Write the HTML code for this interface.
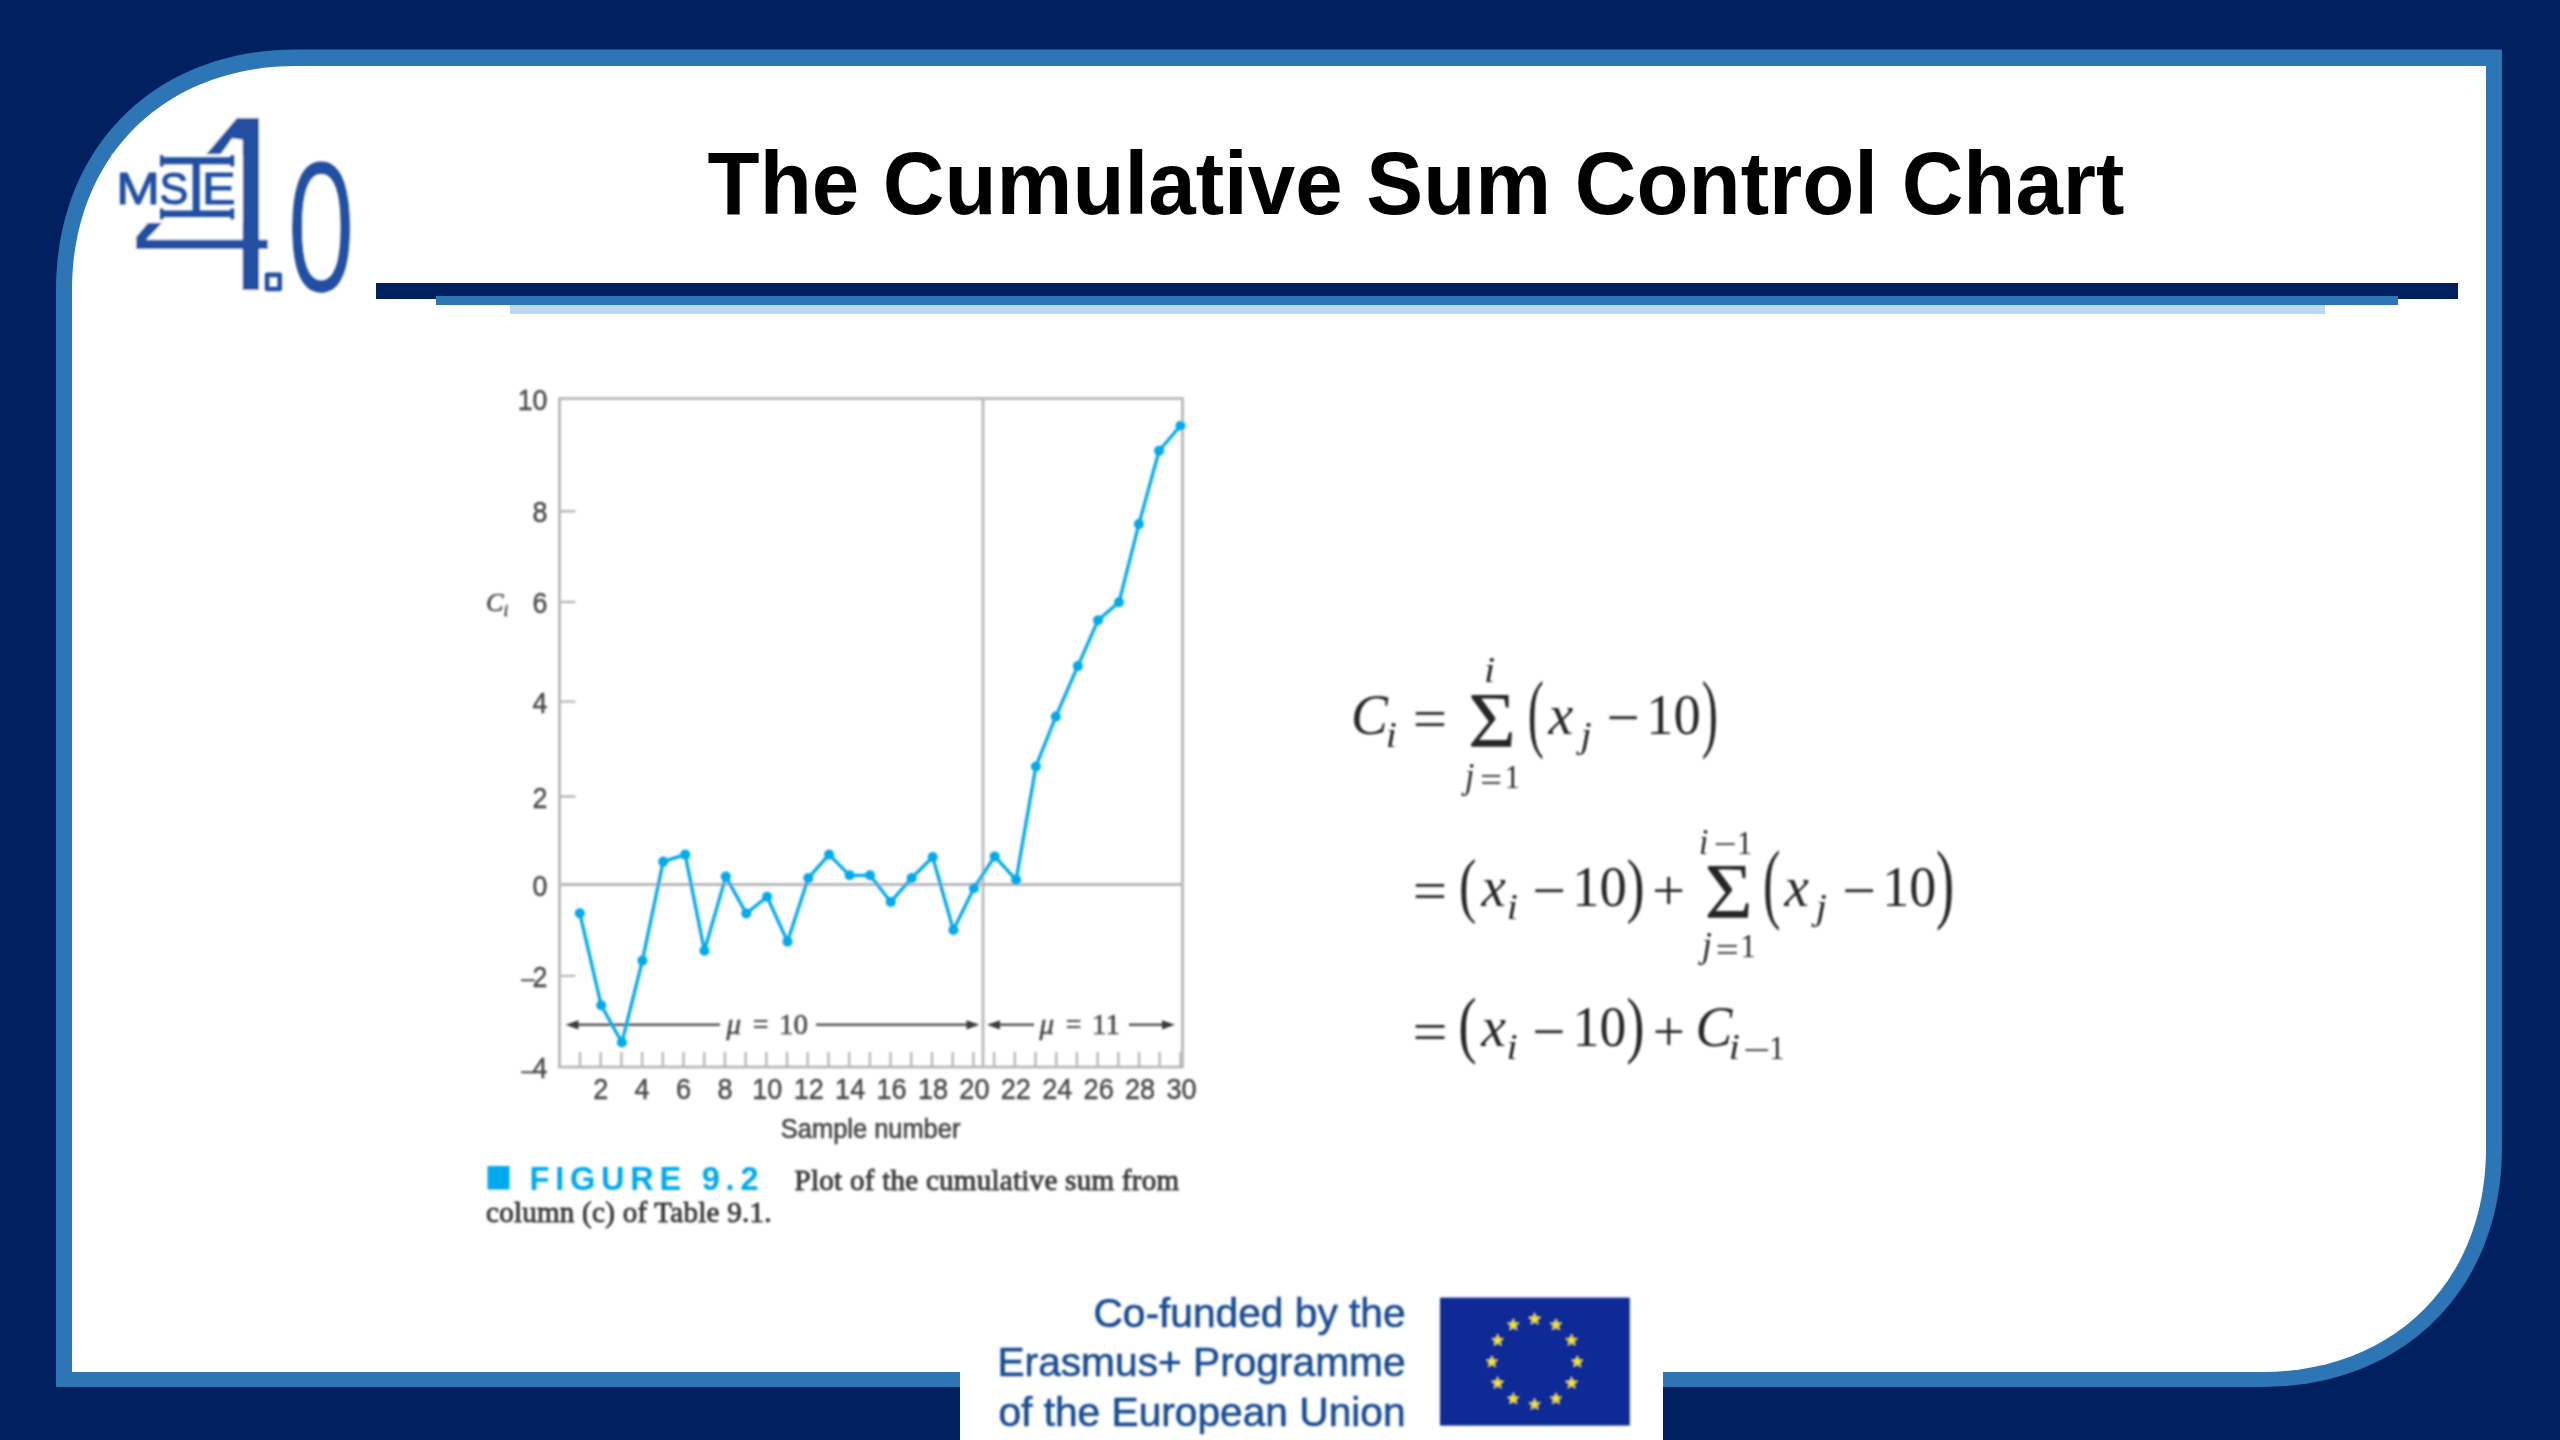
<!DOCTYPE html>
<html lang="en">
<head>
<meta charset="utf-8">
<title>The Cumulative Sum Control Chart</title>
<style>
  html, body { margin: 0; padding: 0; }
  body { width: 2560px; height: 1440px; overflow: hidden; background: #002060; position: relative;
         font-family: "Liberation Sans", sans-serif; }
  .abs { position: absolute; }
  svg { position: absolute; left: 0; top: 0; overflow: visible; font-family: "Liberation Sans", sans-serif; }
  svg text { white-space: pre; }
</style>
</head>
<body>

<svg id="slide" width="2560" height="1440" viewBox="0 0 2560 1440">
<defs>
<filter id="soft" filterUnits="userSpaceOnUse" x="0" y="0" width="2560" height="1440"><feGaussianBlur stdDeviation="1"/></filter>
</defs>
<!-- frame -->
<path d="M296 49.4H2502V1147C2502 1289 2404 1387 2262 1387H56V290C56 148 154 49.4 296 49.4Z" fill="#2e75b6"/>
<path d="M296 66H2486V1148C2486 1280.6 2394.6 1372 2262 1372H72V290C72 157.4 163.4 66 296 66Z" fill="#fff"/>
<rect x="960" y="1280" width="703" height="160" fill="#fff"/>
<!-- title rules -->
<rect x="376" y="283" width="2082" height="16" fill="#002060"/>
<rect x="436" y="296" width="1962" height="9" fill="#2e75b6"/>
<rect x="510" y="305" width="1815" height="9" fill="#bdd7ee"/>
<!-- title -->
<text transform="translate(1416 213.8) scale(1 1.045)" text-anchor="middle" font-size="85.3" font-weight="bold" fill="#000">The Cumulative Sum Control Chart</text>

<g id="logo" fill="#2250a2">
<g filter="url(#soft)">
<text transform="translate(123.17 294.4) scale(1.25 1)" font-size="262.76" stroke="#fff" stroke-width="8.8" stroke-linejoin="miter" stroke-miterlimit="2.5">4</text>
<rect x="267.8" y="226" width="27" height="34" fill="#fff"/>
<rect x="112" y="154.2" width="130.6" height="68.7" fill="#fff"/>
</g>
<g filter="url(#soft)">
<text x="255.12" y="289" font-size="132.33" fill="none" stroke="#2250a2" stroke-width="4.6" stroke-linejoin="round">.</text>
</g>
<g filter="url(#soft)">
<text transform="translate(285.85 291) scale(0.675 1)" font-size="171.16" font-family='"NanumGothic", "Liberation Sans", sans-serif' stroke="#2250a2" stroke-width="1.3">0</text>
<text transform="translate(116.31 204) scale(1.15 0.987)" font-size="45.5" stroke="#2250a2" stroke-width="1.1" stroke-linejoin="round">M</text>
<text transform="translate(159.44 204.06) scale(0.947 0.99)" font-size="45.5" stroke="#2250a2" stroke-width="1.1" stroke-linejoin="round">S</text>
<text transform="translate(185.67 211) scale(1 0.92)" font-size="75.06">I</text>
<text transform="translate(201.88 204) scale(1.103 0.987)" font-size="45.5" stroke="#2250a2" stroke-width="1.1" stroke-linejoin="round">E</text>
<path d="M160 155.2h3.4v2h67v-2h3.8v11.3h-3.8v-2.2h-67v2.2h-3.4zM160 208.4h3.4v2.1h67v-2.1h3.8v10.8h-3.8v-2.1h-67v2.1h-3.4z"/>
</g>
</g>

<g id="chart" filter="url(#soft)">
<g fill="none" stroke="#b8b8b8" stroke-width="2.8">
<rect x="559.5" y="398.5" width="623" height="668.5"/>
<line x1="983" y1="398.5" x2="983" y2="1067"/>
<line x1="559.5" y1="884.5" x2="1182.5" y2="884.5"/>
<path d="M559.5 511.2h16M559.5 602h16M559.5 701.6h16M559.5 796.5h16M559.5 975.9h16M580 1067v-15M600.71 1067v-15M621.41 1067v-15M642.12 1067v-15M662.82 1067v-15M683.53 1067v-15M704.23 1067v-15M724.94 1067v-15M745.64 1067v-15M766.35 1067v-15M787.05 1067v-15M807.76 1067v-15M828.46 1067v-15M849.17 1067v-15M869.88 1067v-15M890.58 1067v-15M911.28 1067v-15M931.99 1067v-15M952.69 1067v-15M973.4 1067v-15M994.1 1067v-15M1014.81 1067v-15M1035.51 1067v-15M1056.22 1067v-15M1076.92 1067v-15M1097.63 1067v-15M1118.34 1067v-15M1139.04 1067v-15M1159.74 1067v-15M1180.45 1067v-15" stroke-width="2.4"/>
</g>
<g fill="#4a4a4a" stroke="#4a4a4a" stroke-width="0.45" font-size="28.5" text-anchor="end">
<text transform="translate(547.5 409.5) scale(0.94 1.04)" font-size="28.5">10</text>
<text transform="translate(547.5 522.2) scale(0.94 1.04)" font-size="28.5">8</text>
<text transform="translate(547.5 613) scale(0.94 1.04)" font-size="28.5">6</text>
<text transform="translate(547.5 712.6) scale(0.94 1.04)" font-size="28.5">4</text>
<text transform="translate(547.5 807.5) scale(0.94 1.04)" font-size="28.5">2</text>
<text transform="translate(547.5 895.5) scale(0.94 1.04)" font-size="28.5">0</text>
<text transform="translate(547.5 986.9) scale(0.94 1.04)" font-size="28.5">2</text>
<text x="534.5" y="986.4" font-size="24">–</text>
<text transform="translate(547.5 1078) scale(0.94 1.04)" font-size="28.5">4</text>
<text x="534.5" y="1077.5" font-size="24">–</text>
</g>
<g fill="#4a4a4a" stroke="#4a4a4a" stroke-width="0.45" font-size="28.5" text-anchor="middle">
<text transform="translate(600.71 1099) scale(0.95 1.04)" font-size="28.5">2</text>
<text transform="translate(642.12 1099) scale(0.95 1.04)" font-size="28.5">4</text>
<text transform="translate(683.53 1099) scale(0.95 1.04)" font-size="28.5">6</text>
<text transform="translate(724.94 1099) scale(0.95 1.04)" font-size="28.5">8</text>
<text transform="translate(767.35 1099) scale(0.95 1.04)" font-size="28.5">10</text>
<text transform="translate(808.76 1099) scale(0.95 1.04)" font-size="28.5">12</text>
<text transform="translate(850.17 1099) scale(0.95 1.04)" font-size="28.5">14</text>
<text transform="translate(891.58 1099) scale(0.95 1.04)" font-size="28.5">16</text>
<text transform="translate(932.99 1099) scale(0.95 1.04)" font-size="28.5">18</text>
<text transform="translate(974.4 1099) scale(0.95 1.04)" font-size="28.5">20</text>
<text transform="translate(1015.81 1099) scale(0.95 1.04)" font-size="28.5">22</text>
<text transform="translate(1057.22 1099) scale(0.95 1.04)" font-size="28.5">24</text>
<text transform="translate(1098.63 1099) scale(0.95 1.04)" font-size="28.5">26</text>
<text transform="translate(1140.04 1099) scale(0.95 1.04)" font-size="28.5">28</text>
<text transform="translate(1181.45 1099) scale(0.95 1.04)" font-size="28.5">30</text>
</g>
<text transform="translate(870.6 1137.7) scale(0.935 1.02)" font-size="27.2" fill="#4a4a4a" text-anchor="middle" stroke="#4a4a4a" stroke-width="0.7">Sample number</text>
<text x="486" y="610.5" font-size="26" font-family='"Liberation Serif", serif' fill="#4a4a4a" font-style="italic" stroke="#4a4a4a" stroke-width="0.6">C</text>
<text x="503.5" y="616" font-size="17" font-family='"Liberation Serif", serif' fill="#4a4a4a" font-style="italic" stroke="#4a4a4a" stroke-width="0.6">i</text>
<g stroke="#555" stroke-width="2.4" fill="none">
<path d="M572 1024.8H720M816 1024.8H973M994 1024.8H1034M1129 1024.8H1168"/>
</g>
<g fill="#3a3a3a">
<path d="M565.5 1024.8L578.5 1020.2L578.5 1029.4Z"/>
<path d="M979.5 1024.8L966.5 1020.2L966.5 1029.4Z"/>
<path d="M987 1024.8L1000 1020.2L1000 1029.4Z"/>
<path d="M1175 1024.8L1162 1020.2L1162 1029.4Z"/>
</g>
<text x="726.5" y="1033.5" font-size="29" font-family='"Liberation Serif", serif' fill="#4a4a4a" font-style="italic" stroke="#4a4a4a" stroke-width="0.6">μ</text>
<text x="752.5" y="1033.5" font-size="29" font-family='"Liberation Serif", serif' fill="#4a4a4a" font-weight="bold">=</text>
<text x="779" y="1033.5" font-size="29" font-family='"Liberation Serif", serif' fill="#4a4a4a" stroke="#4a4a4a" stroke-width="0.6">10</text>
<text x="1039.5" y="1033.5" font-size="29" font-family='"Liberation Serif", serif' fill="#4a4a4a" font-style="italic" stroke="#4a4a4a" stroke-width="0.6">μ</text>
<text x="1065.5" y="1033.5" font-size="29" font-family='"Liberation Serif", serif' fill="#4a4a4a" font-weight="bold">=</text>
<text x="1092" y="1033.5" font-size="29" font-family='"Liberation Serif", serif' fill="#4a4a4a" stroke="#4a4a4a" stroke-width="0.6">11</text>
<polyline fill="none" stroke="#06a9ec" stroke-width="3.3" stroke-linejoin="round" points="579.8,913.2 601.2,1005.2 621.9,1042.5 642.4,960.6 663.2,861.6 685.2,854.6 704.4,950.8 725.8,876.6 746.3,913.5 767.1,896.7 787.5,941.6 808.3,878.1 829.1,854.6 849.6,875.3 870,875.3 890.8,901.9 911.6,878.1 932.7,857 953.4,930 973.9,888.2 994.7,856.4 1016.1,879.9 1035.9,766.5 1055.8,716.6 1077.8,666.1 1098,620.3 1119,602.3 1138.9,524.1 1159.1,450.7 1180.5,425.7"/>
<g fill="#06a9ec">
<circle cx="579.8" cy="913.2" r="5"/>
<circle cx="601.2" cy="1005.2" r="5"/>
<circle cx="621.9" cy="1042.5" r="5"/>
<circle cx="642.4" cy="960.6" r="5"/>
<circle cx="663.2" cy="861.6" r="5"/>
<circle cx="685.2" cy="854.6" r="5"/>
<circle cx="704.4" cy="950.8" r="5"/>
<circle cx="725.8" cy="876.6" r="5"/>
<circle cx="746.3" cy="913.5" r="5"/>
<circle cx="767.1" cy="896.7" r="5"/>
<circle cx="787.5" cy="941.6" r="5"/>
<circle cx="808.3" cy="878.1" r="5"/>
<circle cx="829.1" cy="854.6" r="5"/>
<circle cx="849.6" cy="875.3" r="5"/>
<circle cx="870" cy="875.3" r="5"/>
<circle cx="890.8" cy="901.9" r="5"/>
<circle cx="911.6" cy="878.1" r="5"/>
<circle cx="932.7" cy="857" r="5"/>
<circle cx="953.4" cy="930" r="5"/>
<circle cx="973.9" cy="888.2" r="5"/>
<circle cx="994.7" cy="856.4" r="5"/>
<circle cx="1016.1" cy="879.9" r="5"/>
<circle cx="1035.9" cy="766.5" r="5"/>
<circle cx="1055.8" cy="716.6" r="5"/>
<circle cx="1077.8" cy="666.1" r="5"/>
<circle cx="1098" cy="620.3" r="5"/>
<circle cx="1119" cy="602.3" r="5"/>
<circle cx="1138.9" cy="524.1" r="5"/>
<circle cx="1159.1" cy="450.7" r="5"/>
<circle cx="1180.5" cy="425.7" r="5"/>
</g>
<rect x="487.5" y="1166" width="22" height="23.5" fill="#06a9ec"/>
<text x="529.5" y="1189.5" font-size="32.5" fill="#06a9ec" font-weight="bold" textLength="229" lengthAdjust="spacing">FIGURE 9.2</text>
<g stroke="#3c3c3c" stroke-width="0.9">
<text x="794.5" y="1189.5" font-size="29" font-family='"Liberation Serif", serif' fill="#3c3c3c" textLength="384.5" lengthAdjust="spacing">Plot of the cumulative sum from</text>
<text x="486" y="1221.5" font-size="29" font-family='"Liberation Serif", serif' fill="#3c3c3c" textLength="285.5" lengthAdjust="spacing">column (c) of Table 9.1.</text>
</g>
</g>

<g id="formula" fill="#262626" filter="url(#soft)">
<text transform="translate(1351.03 733.6) scale(0.961 1)" font-size="57.5" font-family='"Liberation Serif", serif' font-style="italic">C</text>
<text transform="translate(1385.86 747.4) scale(1.1 1)" font-size="36.5" font-family='"Liberation Serif", serif' font-style="italic">i</text>
<text transform="translate(1412.76 737.59) scale(1.061 1)" font-size="57.5" font-family='"Liberation Serif", serif'>=</text>
<text transform="translate(1468.08 746.2) scale(1.03 0.983)" font-size="80" font-family='"Liberation Serif", serif'>Σ</text>
<text transform="translate(1483.91 682) scale(1.1 1)" font-size="36.5" font-family='"Liberation Serif", serif' font-style="italic">i</text>
<text transform="translate(1464.89 787.5) scale(0.92 1)" font-size="36.5" font-family='"Liberation Serif", serif' font-style="italic">j</text>
<text transform="translate(1480.27 790.56) scale(1.172 1)" font-size="33" font-family='"Liberation Serif", serif'>=</text>
<text transform="translate(1504.64 787.5) scale(0.92 1)" font-size="33" font-family='"Liberation Serif", serif'>1</text>
<text transform="translate(1527.68 740.99) scale(0.847 1.527)" font-size="57" font-family='"Liberation Serif", serif'>(</text>
<text transform="translate(1548.48 733.6) scale(0.969 1)" font-size="57.5" font-family='"Liberation Serif", serif' font-style="italic">x</text>
<text transform="translate(1580.41 747.4) scale(1.1 1)" font-size="36.5" font-family='"Liberation Serif", serif' font-style="italic">j</text>
<text transform="translate(1606.62 737.39) scale(1.022 1)" font-size="57.5" font-family='"Liberation Serif", serif'>−</text>
<text transform="translate(1646.21 733.6) scale(0.964 1)" font-size="56.5" font-family='"Liberation Serif", serif'>10</text>
<text transform="translate(1701.73 740.99) scale(0.854 1.527)" font-size="57" font-family='"Liberation Serif", serif'>)</text>
<text transform="translate(1412.76 910.49) scale(1.061 1)" font-size="57.5" font-family='"Liberation Serif", serif'>=</text>
<text transform="translate(1459.11 908.73) scale(0.915 1.275)" font-size="57" font-family='"Liberation Serif", serif'>(</text>
<text transform="translate(1481.47 905.6) scale(0.955 1)" font-size="57.5" font-family='"Liberation Serif", serif' font-style="italic">x</text>
<text transform="translate(1506.66 919.4) scale(1.1 1)" font-size="36.5" font-family='"Liberation Serif", serif' font-style="italic">i</text>
<text transform="translate(1532.23 910.34) scale(1.037 1)" font-size="57.5" font-family='"Liberation Serif", serif'>−</text>
<text transform="translate(1572.25 905.6) scale(0.967 1)" font-size="56.5" font-family='"Liberation Serif", serif'>10</text>
<text transform="translate(1626.54 908.73) scale(0.956 1.275)" font-size="57" font-family='"Liberation Serif", serif'>)</text>
<text transform="translate(1652.3 910.34) scale(1.013 1)" font-size="57.5" font-family='"Liberation Serif", serif'>+</text>
<text transform="translate(1704.46 916.7) scale(1.038 0.972)" font-size="80" font-family='"Liberation Serif", serif'>Σ</text>
<text transform="translate(1698.91 853.6) scale(0.92 1)" font-size="36.5" font-family='"Liberation Serif", serif' font-style="italic">i</text>
<text transform="translate(1713.77 854.71) scale(1.237 1)" font-size="33" font-family='"Liberation Serif", serif'>−</text>
<text transform="translate(1736.99 853.6) scale(0.92 1)" font-size="33" font-family='"Liberation Serif", serif'>1</text>
<text transform="translate(1702.1 956.9) scale(0.973 1)" font-size="36.5" font-family='"Liberation Serif", serif' font-style="italic">j</text>
<text transform="translate(1715.67 961.26) scale(1.237 1)" font-size="33" font-family='"Liberation Serif", serif'>=</text>
<text transform="translate(1740.44 956.9) scale(0.92 1)" font-size="33" font-family='"Liberation Serif", serif'>1</text>
<text transform="translate(1762.91 912.26) scale(0.915 1.554)" font-size="57" font-family='"Liberation Serif", serif'>(</text>
<text transform="translate(1784.58 905.6) scale(0.957 1)" font-size="57.5" font-family='"Liberation Serif", serif' font-style="italic">x</text>
<text transform="translate(1815.81 919.4) scale(1.1 1)" font-size="36.5" font-family='"Liberation Serif", serif' font-style="italic">j</text>
<text transform="translate(1842.23 910.34) scale(1.037 1)" font-size="57.5" font-family='"Liberation Serif", serif'>−</text>
<text transform="translate(1882.3 905.6) scale(0.955 1)" font-size="56.5" font-family='"Liberation Serif", serif'>10</text>
<text transform="translate(1935.94 912.26) scale(0.956 1.554)" font-size="57" font-family='"Liberation Serif", serif'>)</text>
<text transform="translate(1412.51 1050.69) scale(1.08 1)" font-size="57.5" font-family='"Liberation Serif", serif'>=</text>
<text transform="translate(1458.37 1048.92) scale(0.97 1.285)" font-size="57" font-family='"Liberation Serif", serif'>(</text>
<text transform="translate(1481.18 1045.5) scale(0.967 1)" font-size="57.5" font-family='"Liberation Serif", serif' font-style="italic">x</text>
<text transform="translate(1506.41 1059.3) scale(1.1 1)" font-size="36.5" font-family='"Liberation Serif", serif' font-style="italic">i</text>
<text transform="translate(1532.28 1050.59) scale(1.02 1)" font-size="57.5" font-family='"Liberation Serif", serif'>−</text>
<text transform="translate(1572.69 1045.5) scale(0.948 1)" font-size="56.5" font-family='"Liberation Serif", serif'>10</text>
<text transform="translate(1626.33 1048.92) scale(0.963 1.285)" font-size="57" font-family='"Liberation Serif", serif'>)</text>
<text transform="translate(1652.66 1050.79) scale(0.99 1)" font-size="57.5" font-family='"Liberation Serif", serif'>+</text>
<text transform="translate(1695.43 1045.5) scale(0.961 1)" font-size="57.5" font-family='"Liberation Serif", serif' font-style="italic">C</text>
<text transform="translate(1728.66 1059.3) scale(1.1 1)" font-size="36.5" font-family='"Liberation Serif", serif' font-style="italic">i</text>
<text transform="translate(1742.88 1061.46) scale(1.475 1)" font-size="33" font-family='"Liberation Serif", serif'>−</text>
<text transform="translate(1769.34 1059.3) scale(0.92 1)" font-size="33" font-family='"Liberation Serif", serif'>1</text>
</g>

<g id="eufoot" filter="url(#soft)">
<g id="eu" fill="#1a4c93" stroke="#1a4c93" stroke-width="0.6" text-anchor="end" font-size="40.7">
<text x="1405.6" y="1327" font-size="40.7">Co-funded by the</text>
<text x="1405.6" y="1376.25" font-size="40.7">Erasmus+ Programme</text>
<text x="1405.6" y="1425.5" font-size="40.7">of the European Union</text>
</g>
<rect x="1440" y="1297.6" width="189.8" height="128" fill="#0c2c96"/>
<g fill="#f4e72a">
<polygon points="1534.6,1312.5 1536.13,1317 1540.88,1317.06 1537.07,1319.9 1538.48,1324.44 1534.6,1321.7 1530.72,1324.44 1532.13,1319.9 1528.32,1317.06 1533.07,1317"/>
<polygon points="1555.95,1318.22 1557.48,1322.72 1562.23,1322.78 1558.42,1325.62 1559.83,1330.16 1555.95,1327.42 1552.07,1330.16 1553.48,1325.62 1549.67,1322.78 1554.42,1322.72"/>
<polygon points="1571.58,1333.85 1573.11,1338.35 1577.86,1338.41 1574.05,1341.25 1575.46,1345.79 1571.58,1343.05 1567.7,1345.79 1569.11,1341.25 1565.3,1338.41 1570.05,1338.35"/>
<polygon points="1577.3,1355.2 1578.83,1359.7 1583.58,1359.76 1579.77,1362.6 1581.18,1367.14 1577.3,1364.4 1573.42,1367.14 1574.83,1362.6 1571.02,1359.76 1575.77,1359.7"/>
<polygon points="1571.58,1376.55 1573.11,1381.05 1577.86,1381.11 1574.05,1383.95 1575.46,1388.49 1571.58,1385.75 1567.7,1388.49 1569.11,1383.95 1565.3,1381.11 1570.05,1381.05"/>
<polygon points="1555.95,1392.18 1557.48,1396.68 1562.23,1396.74 1558.42,1399.58 1559.83,1404.12 1555.95,1401.38 1552.07,1404.12 1553.48,1399.58 1549.67,1396.74 1554.42,1396.68"/>
<polygon points="1534.6,1397.9 1536.13,1402.4 1540.88,1402.46 1537.07,1405.3 1538.48,1409.84 1534.6,1407.1 1530.72,1409.84 1532.13,1405.3 1528.32,1402.46 1533.07,1402.4"/>
<polygon points="1513.25,1392.18 1514.78,1396.68 1519.53,1396.74 1515.72,1399.58 1517.13,1404.12 1513.25,1401.38 1509.37,1404.12 1510.78,1399.58 1506.97,1396.74 1511.72,1396.68"/>
<polygon points="1497.62,1376.55 1499.15,1381.05 1503.9,1381.11 1500.09,1383.95 1501.5,1388.49 1497.62,1385.75 1493.74,1388.49 1495.15,1383.95 1491.34,1381.11 1496.09,1381.05"/>
<polygon points="1491.9,1355.2 1493.43,1359.7 1498.18,1359.76 1494.37,1362.6 1495.78,1367.14 1491.9,1364.4 1488.02,1367.14 1489.43,1362.6 1485.62,1359.76 1490.37,1359.7"/>
<polygon points="1497.62,1333.85 1499.15,1338.35 1503.9,1338.41 1500.09,1341.25 1501.5,1345.79 1497.62,1343.05 1493.74,1345.79 1495.15,1341.25 1491.34,1338.41 1496.09,1338.35"/>
<polygon points="1513.25,1318.22 1514.78,1322.72 1519.53,1322.78 1515.72,1325.62 1517.13,1330.16 1513.25,1327.42 1509.37,1330.16 1510.78,1325.62 1506.97,1322.78 1511.72,1322.72"/>
</g>
</g>
</svg>
</body>
</html>
